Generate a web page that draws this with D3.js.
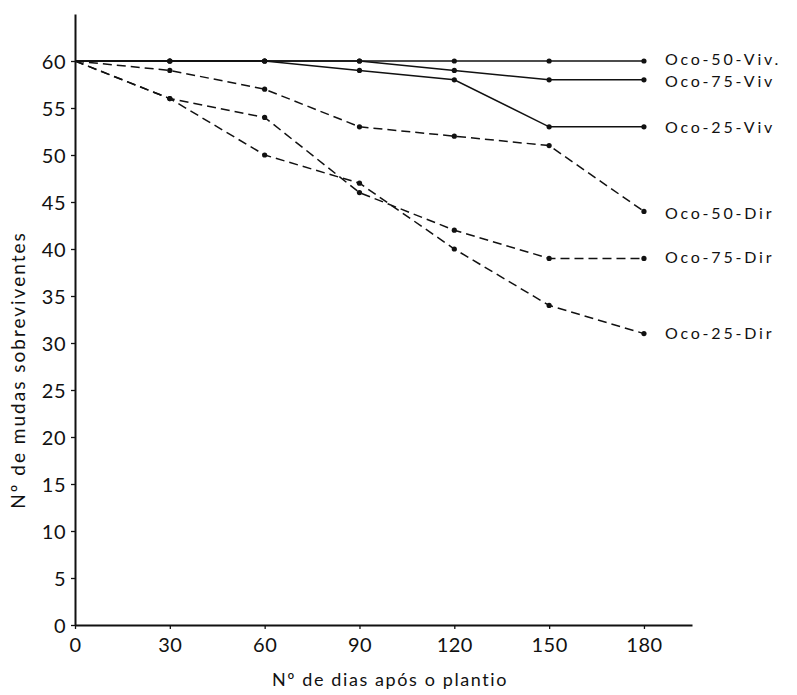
<!DOCTYPE html>
<html>
<head>
<meta charset="utf-8">
<script src="https://cdn.jsdelivr.net/npm/d3@7"></script>
<style>
  html, body { margin: 0; padding: 0; background: #fff; }
  svg text { font-family: "Lato", "DejaVu Sans", sans-serif; fill: #111; }
</style>
</head>
<body>
<svg id="chart" width="797" height="695"></svg>
<script>
// Days after planting (x) and surviving seedlings per treatment (y)
const days = [0, 30, 60, 90, 120, 150, 180];
const oco50Viv = [60, 60, 60, 60, 60, 60, 60];
const oco75Viv = [60, 60, 60, 60, 59, 58, 58];
const oco25Viv = [60, 60, 60, 59, 58, 53, 53];
const oco50Dir = [60, 59, 57, 53, 52, 51, 44];
const oco75Dir = [60, 56, 54, 46, 42, 39, 39];
const oco25Dir = [60, 56, 50, 47, 40, 34, 31];
const seriesNames = ["Oco-50-Viv.", "Oco-75-Viv", "Oco-25-Viv", "Oco-50-Dir", "Oco-75-Dir", "Oco-25-Dir"];
const seriesValues = [oco50Viv, oco75Viv, oco25Viv, oco50Dir, oco75Dir, oco25Dir];
const seriesDashed = [false, false, false, true, true, true];
// small vertical nudges so the two top labels don't collide
const labelNudge = [-2, 1.5, 0, 2, -1, 0];
const xTicks = [0, 30, 60, 90, 120, 150, 180];
const yTicks = [0, 5, 10, 15, 20, 25, 30, 35, 40, 45, 50, 55, 60];
const xTitle = "Nº de dias após o plantio";
const yTitle = "Nº de mudas sobreviventes";

const svg = d3.select("#chart");
const x = d3.scaleLinear().domain([0, 195.2]).range([75, 692]);
const y = d3.scaleLinear().domain([0, 65]).range([625, 14]);

// Axes
const xAxis = d3.axisBottom(x).tickValues(xTicks).tickSize(4).tickSizeOuter(0).tickPadding(6);
const yAxis = d3.axisLeft(y).tickValues(yTicks).tickSize(4).tickSizeOuter(0).tickPadding(5);

const gx = svg.append("g").attr("transform", `translate(0,${y(0)})`).call(xAxis);
const gy = svg.append("g").attr("transform", `translate(${x(0)},0)`).call(yAxis);

[gx, gy].forEach(g => {
  g.select(".domain").attr("stroke", "#111").attr("stroke-width", 2);
  g.selectAll(".tick line").attr("stroke", "#111").attr("stroke-width", 1.3);
  g.selectAll(".tick text").attr("font-size", 20).attr("fill", "#111")
    .attr("letter-spacing", 0.5)
    .style("font-family", "Lato, 'DejaVu Sans', sans-serif");
});
gx.selectAll(".tick text").attr("dy", "0.85em");
gy.selectAll(".tick text").attr("dy", "0.36em");

// Axis titles
svg.append("text")
  .attr("x", 390).attr("y", 686)
  .attr("text-anchor", "middle")
  .attr("font-size", 18)
  .attr("letter-spacing", 1.6)
  .text(xTitle);

svg.append("text")
  .attr("transform", "translate(25,370) rotate(-90)")
  .attr("text-anchor", "middle")
  .attr("font-size", 19)
  .attr("letter-spacing", 2)
  .text(yTitle);

// Series lines, markers and end labels
const line = d3.line().x((d, i) => x(days[i])).y(d => y(d));

seriesValues.forEach((vals, s) => {
  const g = svg.append("g");
  g.append("path")
    .datum(vals)
    .attr("d", line)
    .attr("fill", "none")
    .attr("stroke", "#111")
    .attr("stroke-width", 1.5)
    .attr("stroke-dasharray", seriesDashed[s] ? "9,5" : null);

  g.selectAll("circle")
    .data(vals.slice(1))
    .join("circle")
    .attr("cx", (d, i) => x(days[i + 1]))
    .attr("cy", d => y(d))
    .attr("r", 2.6)
    .attr("fill", "#111");

  g.append("text")
    .attr("x", x(days[days.length - 1]) + 21)
    .attr("y", y(vals[vals.length - 1]) + labelNudge[s])
    .attr("dy", "0.36em")
    .attr("font-size", 16)
    .attr("letter-spacing", 2.8)
    .text(seriesNames[s]);
});
</script>
</body>
</html>
